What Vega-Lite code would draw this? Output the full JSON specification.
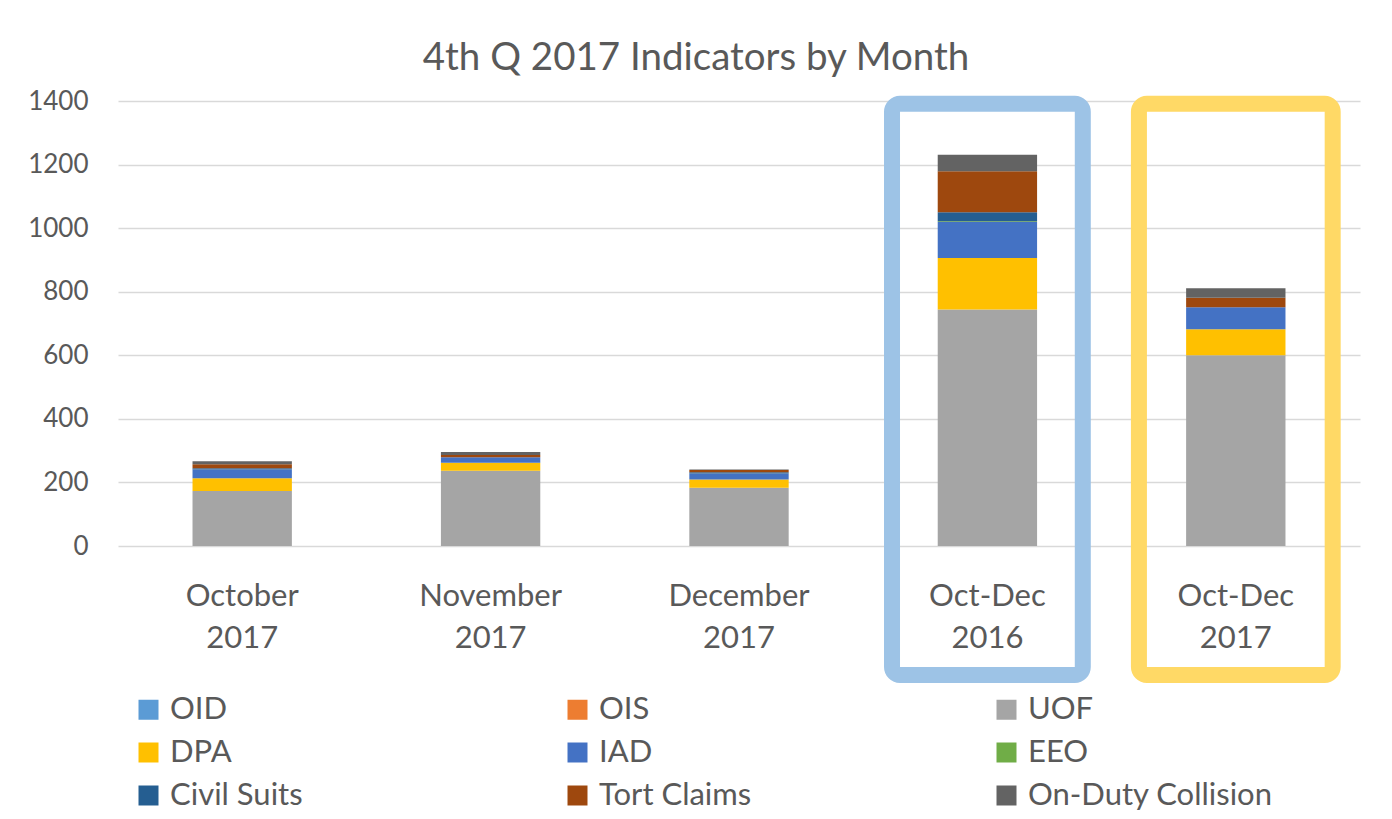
{
  "$schema": "https://vega.github.io/schema/vega-lite/v6.json",
  "autosize": "none",
  "width": 1242,
  "height": 445,
  "padding": {"left": 118, "top": 101, "right": 32, "bottom": 273},
  "background": "white",
  "title": {
    "text": "4th Q 2017 Indicators by Month",
    "fontSize": 38.5,
    "font": "Lato",
    "fontWeight": "normal",
    "color": "#595959",
    "anchor": "middle",
    "dx": -43,
    "offset": 10
  },
  "config": {
    "font": "Lato",
    "view": {"stroke": null}
  },
  "datasets": {
    "counts": [
      {"period": "October 2017", "indicator": "OID", "count": 0},
      {"period": "October 2017", "indicator": "OIS", "count": 0},
      {"period": "October 2017", "indicator": "UOF", "count": 173},
      {"period": "October 2017", "indicator": "DPA", "count": 40},
      {"period": "October 2017", "indicator": "IAD", "count": 28},
      {"period": "October 2017", "indicator": "EEO", "count": 0},
      {"period": "October 2017", "indicator": "Civil Suits", "count": 4},
      {"period": "October 2017", "indicator": "Tort Claims", "count": 12},
      {"period": "October 2017", "indicator": "On-Duty Collision", "count": 10},
      {"period": "November 2017", "indicator": "OID", "count": 0},
      {"period": "November 2017", "indicator": "OIS", "count": 0},
      {"period": "November 2017", "indicator": "UOF", "count": 237},
      {"period": "November 2017", "indicator": "DPA", "count": 25},
      {"period": "November 2017", "indicator": "IAD", "count": 17},
      {"period": "November 2017", "indicator": "EEO", "count": 0},
      {"period": "November 2017", "indicator": "Civil Suits", "count": 0},
      {"period": "November 2017", "indicator": "Tort Claims", "count": 7},
      {"period": "November 2017", "indicator": "On-Duty Collision", "count": 10},
      {"period": "December 2017", "indicator": "OID", "count": 0},
      {"period": "December 2017", "indicator": "OIS", "count": 0},
      {"period": "December 2017", "indicator": "UOF", "count": 183},
      {"period": "December 2017", "indicator": "DPA", "count": 26},
      {"period": "December 2017", "indicator": "IAD", "count": 19},
      {"period": "December 2017", "indicator": "EEO", "count": 0},
      {"period": "December 2017", "indicator": "Civil Suits", "count": 4},
      {"period": "December 2017", "indicator": "Tort Claims", "count": 7},
      {"period": "December 2017", "indicator": "On-Duty Collision", "count": 2},
      {"period": "Oct-Dec 2016", "indicator": "OID", "count": 0},
      {"period": "Oct-Dec 2016", "indicator": "OIS", "count": 0},
      {"period": "Oct-Dec 2016", "indicator": "UOF", "count": 744},
      {"period": "Oct-Dec 2016", "indicator": "DPA", "count": 162},
      {"period": "Oct-Dec 2016", "indicator": "IAD", "count": 113},
      {"period": "Oct-Dec 2016", "indicator": "EEO", "count": 3},
      {"period": "Oct-Dec 2016", "indicator": "Civil Suits", "count": 28},
      {"period": "Oct-Dec 2016", "indicator": "Tort Claims", "count": 129},
      {"period": "Oct-Dec 2016", "indicator": "On-Duty Collision", "count": 52},
      {"period": "Oct-Dec 2017", "indicator": "OID", "count": 0},
      {"period": "Oct-Dec 2017", "indicator": "OIS", "count": 0},
      {"period": "Oct-Dec 2017", "indicator": "UOF", "count": 600},
      {"period": "Oct-Dec 2017", "indicator": "DPA", "count": 82},
      {"period": "Oct-Dec 2017", "indicator": "IAD", "count": 69},
      {"period": "Oct-Dec 2017", "indicator": "EEO", "count": 0},
      {"period": "Oct-Dec 2017", "indicator": "Civil Suits", "count": 0},
      {"period": "Oct-Dec 2017", "indicator": "Tort Claims", "count": 30},
      {"period": "Oct-Dec 2017", "indicator": "On-Duty Collision", "count": 30}
    ],
    "series_order": [
      {"indicator": "OID", "rank": 1},
      {"indicator": "OIS", "rank": 2},
      {"indicator": "UOF", "rank": 3},
      {"indicator": "DPA", "rank": 4},
      {"indicator": "IAD", "rank": 5},
      {"indicator": "EEO", "rank": 6},
      {"indicator": "Civil Suits", "rank": 7},
      {"indicator": "Tort Claims", "rank": 8},
      {"indicator": "On-Duty Collision", "rank": 9}
    ],
    "highlights": [
      {"period": "Oct-Dec 2016", "box": "2016"},
      {"period": "Oct-Dec 2017", "box": "2017"}
    ]
  },
  "layer": [
    {
      "data": {"name": "counts"},
      "transform": [
        {"lookup": "indicator", "from": {"data": {"name": "series_order"}, "key": "indicator", "fields": ["rank"]}}
      ],
      "mark": {"type": "bar", "width": {"band": 1}},
      "encoding": {
        "x": {
          "field": "period",
          "type": "nominal",
          "sort": null,
          "scale": {"paddingInner": 0.6, "paddingOuter": 0.3},
          "axis": {
            "title": null,
            "labelAngle": 0,
            "labelExpr": "split(datum.label, ' ')",
            "labelFontSize": 31,
            "labelLineHeight": 42,
            "labelColor": "#595959",
            "labelPadding": 35,
            "labelBaseline": "top",
            "ticks": false,
            "domain": false
          }
        },
        "y": {
          "field": "count",
          "type": "quantitative",
          "stack": "zero",
          "scale": {"domain": [0, 1400], "nice": false},
          "axis": {
            "title": null,
            "format": "d",
            "values": [0, 200, 400, 600, 800, 1000, 1200, 1400],
            "labelFontSize": 26,
            "labelColor": "#595959",
            "labelPadding": 30,
            "ticks": false,
            "domain": false,
            "gridColor": "#d9d9d9",
            "gridWidth": 1.5
          }
        },
        "color": {
          "field": "indicator",
          "type": "nominal",
          "sort": ["OID", "OIS", "UOF", "DPA", "IAD", "EEO", "Civil Suits", "Tort Claims", "On-Duty Collision"],
          "scale": {
            "domain": ["OID", "OIS", "UOF", "DPA", "IAD", "EEO", "Civil Suits", "Tort Claims", "On-Duty Collision"],
            "range": ["#5b9bd5", "#ed7d31", "#a5a5a5", "#ffc000", "#4472c4", "#70ad47", "#255e91", "#9e480e", "#636363"]
          },
          "legend": {
            "title": null,
            "orient": "none",
            "legendX": 15,
            "legendY": 593,
            "direction": "horizontal",
            "columns": 3,
            "gridAlign": "all",
            "columnPadding": 147,
            "rowPadding": 11,
            "symbolType": "square",
            "symbolSize": 400,
            "symbolStrokeWidth": 0,
            "symbolOffset": 0,
            "labelFontSize": 31,
            "labelColor": "#595959",
            "labelOffset": 6,
            "labelLimit": 400
          }
        },
        "order": {"field": "rank", "type": "quantitative", "sort": "ascending"}
      }
    },
    {
      "data": {"name": "highlights"},
      "transform": [{"filter": "datum.box == '2016'"}],
      "mark": {"type": "bar", "filled": false, "stroke": "#9dc3e6", "strokeWidth": 16, "cornerRadius": 8, "width": {"band": 1.92}},
      "encoding": {
        "x": {"field": "period", "type": "nominal", "sort": null},
        "y": {"datum": 1391},
        "y2": {"datum": -406}
      }
    },
    {
      "data": {"name": "highlights"},
      "transform": [{"filter": "datum.box == '2017'"}],
      "mark": {"type": "bar", "filled": false, "stroke": "#ffd966", "strokeWidth": 16, "cornerRadius": 8, "width": {"band": 1.95}},
      "encoding": {
        "x": {"field": "period", "type": "nominal", "sort": null},
        "y": {"datum": 1391},
        "y2": {"datum": -406}
      }
    }
  ]
}
